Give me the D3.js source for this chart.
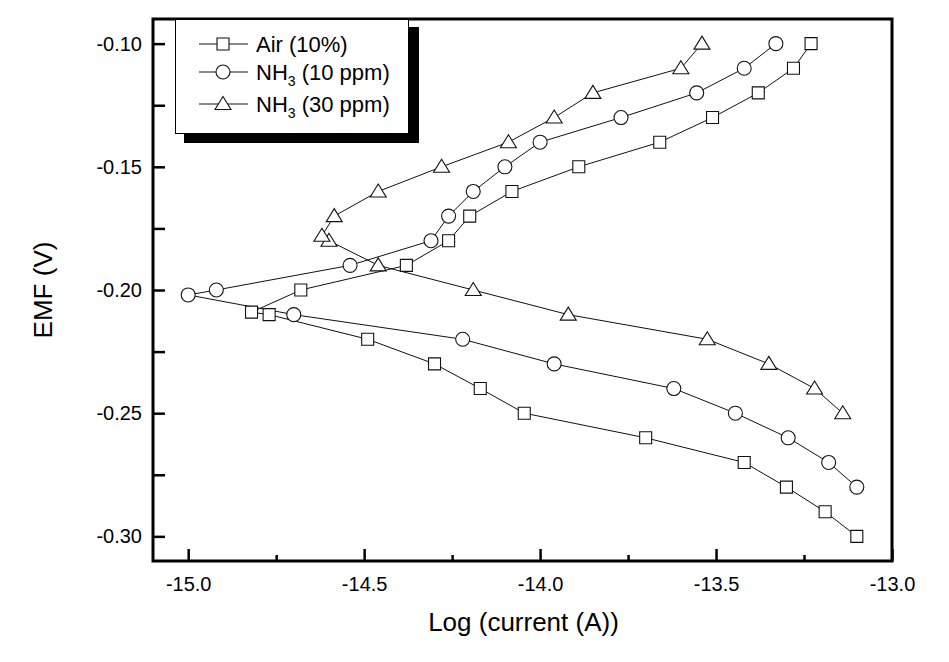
<!DOCTYPE html>
<html>
<head>
<meta charset="utf-8">
<script src="https://cdn.jsdelivr.net/npm/d3@7"></script>
<style>
  html, body { margin: 0; padding: 0; background: #fff; }
  svg { display: block; font-family: "Liberation Sans", Arial, sans-serif; }
</style>
</head>
<body>
<svg id="chart" width="949" height="662"></svg>
<script>
// ---- Data ----
const airX = [-13.10, -13.19, -13.30, -13.42, -13.70, -14.045, -14.17, -14.30, -14.49, -14.77, -14.82, -14.68, -14.38, -14.26, -14.20, -14.08, -13.89, -13.66, -13.51, -13.38, -13.28, -13.23];
const airY = [-0.30, -0.29, -0.28, -0.27, -0.26, -0.25, -0.24, -0.23, -0.22, -0.21, -0.209, -0.20, -0.19, -0.18, -0.17, -0.16, -0.15, -0.14, -0.13, -0.12, -0.11, -0.10];

const nh10X = [-13.10, -13.18, -13.295, -13.445, -13.62, -13.96, -14.22, -14.70, -15.00, -14.92, -14.54, -14.31, -14.26, -14.19, -14.10, -14.00, -13.77, -13.555, -13.42, -13.33];
const nh10Y = [-0.28, -0.27, -0.26, -0.25, -0.24, -0.23, -0.22, -0.21, -0.202, -0.20, -0.19, -0.18, -0.17, -0.16, -0.15, -0.14, -0.13, -0.12, -0.11, -0.10];

const nh30X = [-13.14, -13.22, -13.35, -13.525, -13.92, -14.19, -14.46, -14.60, -14.62, -14.585, -14.46, -14.28, -14.09, -13.96, -13.85, -13.60, -13.54];
const nh30Y = [-0.25, -0.24, -0.23, -0.22, -0.21, -0.20, -0.19, -0.18, -0.178, -0.17, -0.16, -0.15, -0.14, -0.13, -0.12, -0.11, -0.10];

const seriesNames = ["Air", "NH3 (10 ppm)", "NH3 (30 ppm)"];
const xMajorTicks = [-15.0, -14.5, -14.0, -13.5, -13.0];
const xMinorTicks = [-14.75, -14.25, -13.75, -13.25];
const yMajorTicks = [-0.10, -0.15, -0.20, -0.25, -0.30];
const yMinorTicks = [-0.125, -0.175, -0.225, -0.275];

// ---- Layout ----
const svg = d3.select("#chart");
const L = 153, R = 892, T = 19, B = 561;
const x = d3.scaleLinear().domain([-15.1, -13.0]).range([L, R]);
const y = d3.scaleLinear().domain([-0.31, -0.09]).range([B, T]);

const series = [
  { name: seriesNames[0], xs: airX, ys: airY, shape: "square" },
  { name: seriesNames[1], xs: nh10X, ys: nh10Y, shape: "circle" },
  { name: seriesNames[2], xs: nh30X, ys: nh30Y, shape: "triangle" }
];

function markerPath(shape) {
  if (shape === "square") return "M-6,-6H6V6H-6Z";
  if (shape === "circle") return d3.symbol().type(d3.symbolCircle).size(Math.PI * 49)();
  return "M0,-7.5L8,5.5H-8Z";
}

const line = d3.line().x(d => x(d[0])).y(d => y(d[1]));

// lines
series.forEach(s => {
  const pts = s.xs.map((v, i) => [v, s.ys[i]]);
  svg.append("path").attr("d", line(pts))
    .attr("fill", "none").attr("stroke", "#111").attr("stroke-width", 1);
});
// markers
series.forEach(s => {
  const pts = s.xs.map((v, i) => [v, s.ys[i]]);
  svg.append("g").selectAll("path").data(pts).join("path")
    .attr("d", markerPath(s.shape))
    .attr("transform", d => `translate(${x(d[0])},${y(d[1])})`)
    .attr("fill", "#fff").attr("stroke", "#111").attr("stroke-width", 1.1);
});

// axes (inward ticks)
const xAxis = d3.axisBottom(x).tickValues(xMajorTicks).tickSize(-12).tickFormat(d3.format(".1f"));
const gx = svg.append("g").attr("transform", `translate(0,${B})`).call(xAxis);
gx.select(".domain").remove();
gx.selectAll("line").attr("stroke", "#000").attr("stroke-width", 2.5);
gx.selectAll("text").attr("y", 16).attr("dy", "0.71em").attr("font-size", 20).attr("fill", "#000")
  .text(d => d3.format(".1f")(d).replace("−", "-"));

const xAxisMinor = d3.axisBottom(x).tickValues(xMinorTicks).tickSize(-6).tickFormat("");
const gxm = svg.append("g").attr("transform", `translate(0,${B})`).call(xAxisMinor);
gxm.select(".domain").remove();
gxm.selectAll("line").attr("stroke", "#000").attr("stroke-width", 2.5);

const yAxis = d3.axisLeft(y).tickValues(yMajorTicks).tickSize(-12).tickFormat(d3.format(".2f"));
const gy = svg.append("g").attr("transform", `translate(${L},0)`).call(yAxis);
gy.select(".domain").remove();
gy.selectAll("line").attr("stroke", "#000").attr("stroke-width", 2.5);
gy.selectAll("text").attr("x", -11).attr("font-size", 20).attr("fill", "#000")
  .text(d => d3.format(".2f")(d).replace("−", "-"));

const yAxisMinor = d3.axisLeft(y).tickValues(yMinorTicks).tickSize(-12).tickFormat("");
const gym = svg.append("g").attr("transform", `translate(${L},0)`).call(yAxisMinor);
gym.select(".domain").remove();
gym.selectAll("line").attr("stroke", "#000").attr("stroke-width", 2.5);

// frame
svg.append("rect").attr("x", L).attr("y", T).attr("width", R - L).attr("height", B - T)
  .attr("fill", "none").attr("stroke", "#000").attr("stroke-width", 3);

// axis titles
svg.append("text").attr("x", (L + R) / 2 + 1).attr("y", 631).attr("text-anchor", "middle")
  .attr("font-size", 26).attr("fill", "#000").text("Log (current (A))");
svg.append("text").attr("transform", `translate(52,${(T + B) / 2}) rotate(-90)`)
  .attr("text-anchor", "middle").attr("font-size", 26).attr("fill", "#000").text("EMF (V)");

// legend
const lg = svg.append("g");
lg.append("rect").attr("x", 184).attr("y", 27).attr("width", 235).attr("height", 116).attr("fill", "#000");
lg.append("rect").attr("x", 175.5).attr("y", 19.5).attr("width", 233).attr("height", 114)
  .attr("fill", "#fff").attr("stroke", "#000").attr("stroke-width", 1);
const rowY = [44, 72, 104];
series.forEach((s, i) => {
  const cy = rowY[i];
  lg.append("line").attr("x1", 199).attr("x2", 248).attr("y1", cy).attr("y2", cy)
    .attr("stroke", "#111").attr("stroke-width", 1);
  lg.append("path").attr("d", markerPath(s.shape)).attr("transform", `translate(223,${cy})`)
    .attr("fill", "#fff").attr("stroke", "#111").attr("stroke-width", 1.1);
  const t = lg.append("text").attr("x", 256).attr("y", cy + 8).attr("font-size", 22).attr("fill", "#000");
  if (i === 0) {
    t.text("Air (10%)");
  } else {
    t.append("tspan").text("NH");
    t.append("tspan").attr("font-size", 14).attr("dy", 6).text("3");
    t.append("tspan").attr("dy", -6).text(i === 1 ? " (10 ppm)" : " (30 ppm)");
  }
});
</script>
</body>
</html>
